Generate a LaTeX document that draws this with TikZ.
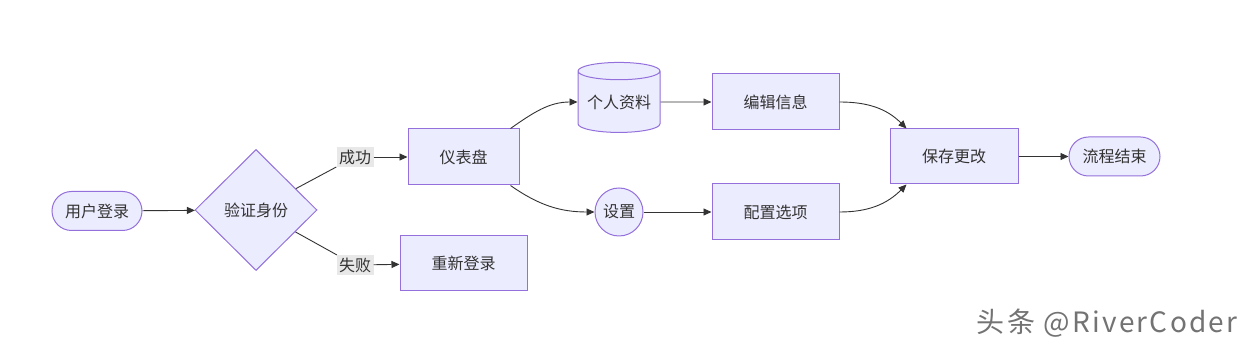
\documentclass[tikz,border=0pt]{standalone}
\usepackage{fontspec}
\setmainfont{Noto Sans CJK SC}
\newfontfamily\markfont[LetterSpace=8]{Noto Sans CJK SC}
\usetikzlibrary{arrows.meta, shapes.geometric}
\definecolor{boxfill}{HTML}{ECECFF}
\definecolor{boxline}{HTML}{9370DB}
\definecolor{edgeline}{HTML}{333333}
\definecolor{labelfill}{HTML}{E8E8E8}

\begin{document}
\begin{tikzpicture}[x=1pt, y=1pt, font=\fontsize{16}{19}\selectfont,
    box/.style={draw=boxline, fill=boxfill, line width=1pt, text=edgeline, inner sep=0pt},
    proc/.style={box, rectangle, minimum width=127pt, minimum height=56pt},
    pill/.style={box, rectangle, rounded corners=19.5pt, minimum width=90pt, minimum height=39pt},
    flow/.style={draw=edgeline, line width=0.9pt},
    arr/.style={flow, -{Triangle[length=8pt, width=7pt]}},
    lbl/.style={fill=labelfill, inner sep=2.5pt, text=edgeline}]
    \useasboundingbox (0,0) rectangle (1250,353);
    % login and check
    \node[pill] (login) at (97,142) {用户登录};
    \node[box, diamond, minimum width=122pt, minimum height=121pt] (verify) at (256,143) {验证身份};
    \node[lbl] (ok) at (355,196) {成功};
    \node[lbl] (fail) at (355,88) {失败};
    \node[proc, minimum width=111pt] (dash) at (463.5,196) {仪表盘};
    \node[proc, minimum height=55pt] (relogin) at (463.5,89.5) {重新登录};
    % dashboard branches
    \node[box, cylinder, shape border rotate=90, aspect=0.27, minimum width=82pt, minimum height=70pt] (profile) at (619,251) {个人资料};
    \node[box, circle, minimum size=48pt] (settings) at (619,141) {设置};
    \node[proc] (edit) at (775.5,251) {编辑信息};
    \node[proc] (config) at (775.5,141) {配置选项};
    \node[proc, minimum width=128pt, minimum height=55pt] (save) at (954,196.5) {保存更改};
    \node[pill, minimum width=91pt] (end) at (1114.5,196.5) {流程结束};
    \node[text=black!55, font=\markfont\fontsize{28}{32}\selectfont, anchor=east] (mark) at (1241,30) {头条 @RiverCoder};

    \draw[arr] (login) -- (verify);
    \draw[flow] (verify) -- (ok);
    \draw[arr] (ok) -- (dash);
    \draw[flow] (verify) -- (fail);
    \draw[arr] (fail) -- (relogin);
    \draw[arr] ([xshift=-9pt]dash.north east) to[out=35, in=180] (profile.west);
    \draw[arr] ([xshift=-9pt]dash.south east) to[out=-35, in=180] (settings.west);
    \draw[arr] (profile) -- (edit);
    \draw[arr] (settings) -- (config);
    % merge into save
    \draw[arr] (edit.east) to[out=0, in=135] ([xshift=17pt]save.north west);
    \draw[arr] (config.east) to[out=0, in=-135] ([xshift=17pt]save.south west);
    \draw[arr] (save) -- (end);
\end{tikzpicture}
\end{document}
